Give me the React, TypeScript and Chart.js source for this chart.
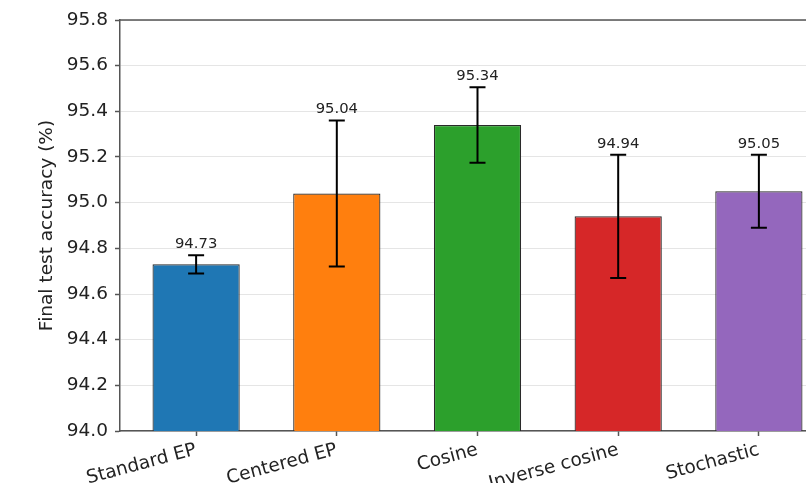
import React, { useEffect, useRef } from "react";
import { Chart, registerables } from "chart.js";

Chart.register(...registerables);

const categories = ["Standard EP", "Centered EP", "Cosine", "Inverse cosine", "Stochastic"];
const means = [94.73, 95.04, 95.34, 94.94, 95.05];
const errors = [0.04, 0.32, 0.165, 0.27, 0.16];
const colors = ["#1f77b4", "#ff7f0e", "#2ca02c", "#d62728", "#9467bd"];
const yTicks = [94.0, 94.2, 94.4, 94.6, 94.8, 95.0, 95.2, 95.4, 95.6, 95.8];

const FONT = '"DejaVu Sans", sans-serif';
const SPINE = "#555555";

const errorBarPlugin = {
  id: "errorBars",
  afterDatasetsDraw(chart: any) {
    const { ctx, chartArea } = chart;
    const xs = chart.scales.x;
    const ys = chart.scales.y;
    ctx.save();
    means.forEach((m, i) => {
      const px = xs.getPixelForValue(i);
      const top = ys.getPixelForValue(m + errors[i]);
      const bot = ys.getPixelForValue(m - errors[i]);
      ctx.strokeStyle = "#000";
      ctx.lineWidth = 2;
      ctx.beginPath();
      ctx.moveTo(px, top);
      ctx.lineTo(px, bot);
      ctx.moveTo(px - 8, top);
      ctx.lineTo(px + 8, top);
      ctx.moveTo(px - 8, bot);
      ctx.lineTo(px + 8, bot);
      ctx.stroke();
      ctx.fillStyle = "#222";
      ctx.font = `14.8px ${FONT}`;
      ctx.textAlign = "center";
      ctx.textBaseline = "alphabetic";
      ctx.fillText(m.toFixed(2), px, top - 7);
    });
    // top and right spines
    ctx.strokeStyle = SPINE;
    ctx.lineWidth = 1.5;
    ctx.beginPath();
    ctx.moveTo(chartArea.left, chartArea.top);
    ctx.lineTo(chartArea.right, chartArea.top);
    ctx.lineTo(chartArea.right, chartArea.bottom);
    ctx.stroke();
    ctx.restore();
  },
};

export default function App() {
  const ref = useRef<HTMLCanvasElement | null>(null);
  useEffect(() => {
    if (!ref.current) return;
    const chart = new Chart(ref.current, {
      type: "bar",
      data: {
        datasets: [
          {
            data: means.map((m, i) => ({ x: i, y: m })),
            backgroundColor: colors,
            borderColor: "#2a2a2a",
            borderWidth: 1.2,
            barPercentage: 0.62,
            categoryPercentage: 1,
          },
        ],
      },
      options: {
        animation: false,
        responsive: false,
        maintainAspectRatio: false,
        layout: { padding: { top: 20, right: 25, left: 0, bottom: 0 } },
        plugins: {
          legend: { display: false },
          tooltip: { enabled: false },
        },
        scales: {
          x: {
            type: "linear",
            min: -0.541,
            max: 4.541,
            offset: false,
            afterBuildTicks: (scale: any) => {
              scale.ticks = categories.map((_, i) => ({ value: i }));
            },
            afterFit: (scale: any) => {
              scale.height = 52;
            },
            grid: {
              drawOnChartArea: false,
              drawTicks: true,
              tickLength: 5,
              tickColor: SPINE,
              tickWidth: 1.5,
              offset: false,
            },
            border: { display: true, color: SPINE, width: 1.5 },
            ticks: {
              autoSkip: false,
              minRotation: 15,
              maxRotation: 15,
              padding: 3,
              color: "#222",
              font: { family: FONT, size: 18.5 },
              callback: (v: any) => categories[Math.round(Number(v))] ?? "",
            },
          },
          y: {
            min: 94.0,
            max: 95.8,
            afterBuildTicks: (scale: any) => {
              scale.ticks = yTicks.map((v) => ({ value: v }));
            },
            afterFit: (scale: any) => {
              scale.width = 120;
            },
            grid: {
              color: "rgba(0,0,0,0.1)",
              lineWidth: 1,
              drawTicks: true,
              tickLength: 5,
              tickColor: SPINE,
              tickWidth: 1.5,
            },
            border: { display: true, color: SPINE, width: 1.5 },
            ticks: {
              padding: 7,
              color: "#222",
              font: { family: FONT, size: 18.5 },
              callback: (v: any) => Number(v).toFixed(1),
            },
            title: {
              display: true,
              text: "Final test accuracy (%)",
              color: "#222",
              font: { family: FONT, size: 18.5 },
              padding: { top: 36, bottom: 0 },
            },
          },
        },
      },
      plugins: [errorBarPlugin],
    });
    return () => chart.destroy();
  }, []);

  return (
    <div
      style={{
        position: "fixed",
        left: 0,
        top: 0,
        width: 806,
        height: 483,
        overflow: "hidden",
        background: "#fff",
      }}
    >
      <canvas ref={ref} width={860} height={483} style={{ display: "block", width: 860, height: 483 }} />
    </div>
  );
}
